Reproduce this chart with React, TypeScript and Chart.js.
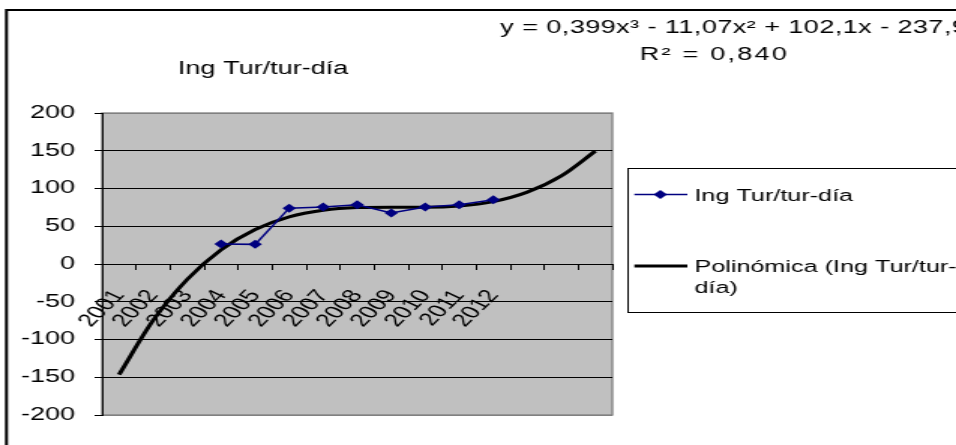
import React, { useEffect, useRef } from 'react';
import { Chart, registerables } from 'chart.js';

Chart.register(...registerables);

// ---- data ----
const years = ['2001', '2002', '2003', '2004', '2005', '2006', '2007', '2008', '2009', '2010', '2011', '2012'];
const forecastSlots = ['', '', ''];
const ingTur = [null, null, null, 26.5, 26, 74, 75.5, 78.5, 67.5, 75.5, 78.5, 85];
const polyTrend = [-146.5, -74.8, -20.5, 18.9, 45.7, 62.4, 71.2, 74.7, 75.2, 75.1, 76.8, 82.7, 95.2, 116.6, 149.5];
const yMin = -200;
const yMax = 200;
const yStep = 50;
const seriesName = 'Ing Tur/tur-día';
const trendLegendLines = ['Polinómica (Ing Tur/tur-', 'día)'];
const trendName = 'Polinómica (Ing Tur/tur-día)';
const titleText = 'Ing Tur/tur-día';
const equationText = 'y = 0,399x³ - 11,07x² + 102,1x - 237,9';
const r2Text = 'R² = 0,840';

// ---- drawing geometry (internal canvas is stretched horizontally 1.5x) ----
const W = 637;
const H = 445;
const FONT = '"Liberation Sans", Arial, sans-serif';
const FS = 18;
const LEGEND_FS = 16.8;

const decor = {
  id: 'decor',
  beforeDraw(chart: any) {
    const { ctx, chartArea: a } = chart;
    ctx.save();
    ctx.fillStyle = '#ffffff';
    ctx.fillRect(0, 0, chart.width, chart.height);
    ctx.fillStyle = '#C0C0C0';
    ctx.fillRect(a.left, a.top, a.right - a.left, a.bottom - a.top);
    ctx.strokeStyle = '#808080';
    ctx.lineWidth = 1.3;
    ctx.strokeRect(a.left, a.top, a.right - a.left, a.bottom - a.top);
    ctx.restore();
  },
  afterDraw(chart: any) {
    const { ctx } = chart;
    ctx.save();
    ctx.fillStyle = '#000';
    ctx.font = `${FS}px ${FONT}`;
    ctx.textBaseline = 'alphabetic';

    // title
    ctx.textAlign = 'center';
    ctx.fillText(titleText, 175.3, 74);

    // trend equation
    ctx.textAlign = 'left';
    (ctx as any).letterSpacing = '0.3px';
    ctx.fillText(equationText, 333.3, 32.5);
    ctx.textAlign = 'center';
    (ctx as any).letterSpacing = '1.5px';
    ctx.fillText(r2Text, 476, 59.5);
    (ctx as any).letterSpacing = '0px';

    // legend
    ctx.strokeStyle = '#000';
    ctx.lineWidth = 1;
    ctx.strokeRect(418.5, 168.5, 400, 144);

    const ds = chart.data.datasets;
    ctx.font = `${LEGEND_FS}px ${FONT}`;
    // item 1
    ctx.strokeStyle = ds[0].borderColor;
    ctx.lineWidth = 1.4;
    ctx.beginPath();
    ctx.moveTo(422.7, 194.5);
    ctx.lineTo(458, 194.5);
    ctx.stroke();
    ctx.fillStyle = ds[0].backgroundColor;
    ctx.beginPath();
    const mx = 440, my = 194.5, r = 4.5;
    ctx.moveTo(mx, my - r);
    ctx.lineTo(mx + r, my);
    ctx.lineTo(mx, my + r);
    ctx.lineTo(mx - r, my);
    ctx.closePath();
    ctx.fill();
    ctx.fillStyle = '#000';
    ctx.textAlign = 'left';
    ctx.fillText(ds[0].label, 462.7, 200.5);

    // item 2
    ctx.strokeStyle = ds[1].borderColor;
    ctx.lineWidth = 3;
    ctx.beginPath();
    ctx.moveTo(422.7, 266);
    ctx.lineTo(458, 266);
    ctx.stroke();
    ctx.fillText(trendLegendLines[0], 462.7, 271.5);
    ctx.fillText(trendLegendLines[1], 462.7, 292.5);

    // outer chart border (left + top visible)
    ctx.strokeStyle = '#000';
    ctx.lineWidth = 2;
    ctx.beginPath();
    ctx.moveTo(4.3, H + 5);
    ctx.lineTo(4.3, 10);
    ctx.lineTo(W + 5, 10);
    ctx.stroke();
    ctx.restore();
  },
};

export default function App() {
  const ref = useRef<HTMLCanvasElement>(null);

  useEffect(() => {
    if (!ref.current) return;
    const chart = new Chart(ref.current, {
      type: 'line',
      data: {
        labels: [...years, ...forecastSlots],
        datasets: [
          {
            label: seriesName,
            data: ingTur,
            borderColor: '#000080',
            backgroundColor: '#000080',
            borderWidth: 1.5,
            pointStyle: 'rectRot',
            pointRadius: 4.5,
            pointBorderWidth: 0,
            pointBackgroundColor: '#000080',
            spanGaps: false,
            tension: 0,
            fill: false,
          },
          {
            label: trendName,
            data: polyTrend,
            borderColor: '#000000',
            backgroundColor: '#000000',
            borderWidth: 3,
            pointRadius: 0,
            cubicInterpolationMode: 'monotone',
            fill: false,
          },
        ],
      },
      options: {
        responsive: false,
        animation: false,
        devicePixelRatio: 1,
        layout: { padding: { left: 0, top: 113, right: W - 408, bottom: H - 415 } },
        plugins: {
          legend: { display: false },
          title: { display: false },
          tooltip: { enabled: false },
        },
        scales: {
          x: {
            type: 'category',
            position: { y: 0 } as any,
            offset: true,
            grid: {
              offset: true,
              drawOnChartArea: false,
              drawTicks: true,
              tickLength: 5,
              color: '#000',
              tickColor: '#000',
            },
            border: { display: true, color: '#000', width: 1 },
            ticks: {
              autoSkip: false,
              minRotation: 55,
              maxRotation: 55,
              padding: 17,
              color: '#000',
              font: { family: FONT, size: FS },
            },
          },
          y: {
            min: yMin,
            max: yMax,
            afterFit: (s: any) => {
              s.width = 68;
            },
            grid: {
              color: (c: any) => (c.tick && (c.tick.value === yMax || c.tick.value === yMin) ? '#808080' : '#000'),
              tickColor: '#000',
              tickLength: 5,
              lineWidth: 1,
            },
            border: { color: '#000', width: 1 },
            ticks: {
              stepSize: yStep,
              padding: 13,
              color: '#000',
              font: { family: FONT, size: FS },
            },
          },
        },
      },
      plugins: [decor],
    } as any);
    return () => chart.destroy();
  }, []);

  return (
    <div style={{ position: 'fixed', left: 0, top: 0, width: 956, height: 445, background: '#fff', overflow: 'hidden' }}>
      <canvas ref={ref} width={W} height={H} style={{ display: 'block', width: '956px', height: '445px' }} />
    </div>
  );
}
